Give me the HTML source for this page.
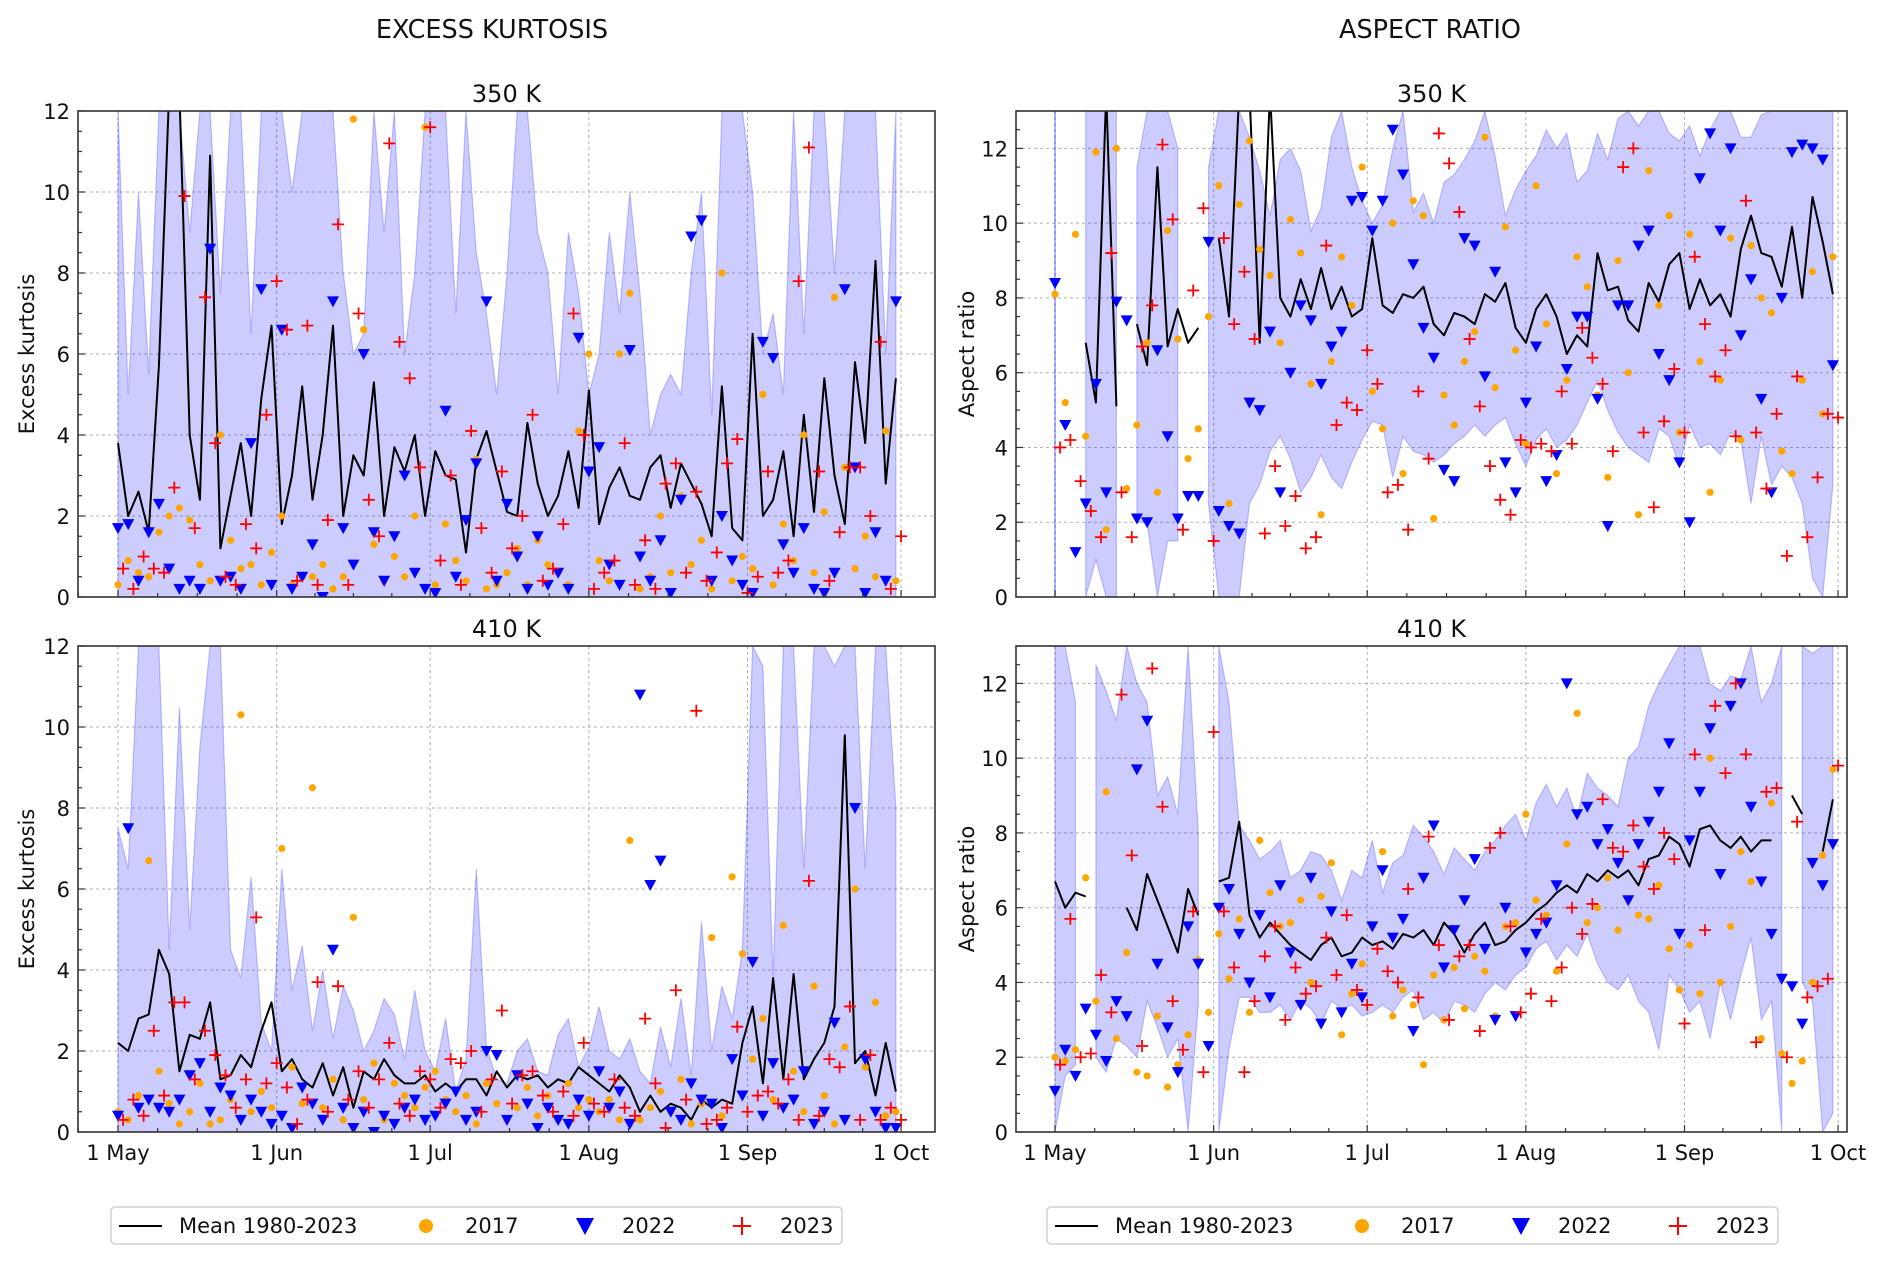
<!DOCTYPE html>
<html><head><meta charset="utf-8"><style>
html,body{margin:0;padding:0;background:#fff;}
svg{display:block;font-family:"DejaVu Sans","Liberation Sans",sans-serif;}
</style></head><body>
<svg id="chart" width="1892" height="1266" viewBox="0 0 1892 1266" xmlns="http://www.w3.org/2000/svg">
<text x="492" y="38" font-size="25.5" text-anchor="middle" fill="#111">EXCESS KURTOSIS</text>
<text x="1430" y="38" font-size="25.5" text-anchor="middle" fill="#111">ASPECT RATIO</text>
<g id="panels"></g>
<g>
<rect x="111" y="1207" width="731" height="37" rx="4" fill="#fff" stroke="#d0d0d0" stroke-width="1.5"/>
<line x1="119" y1="1226" x2="162" y2="1226" stroke="#000" stroke-width="2"/>
<text x="179" y="1233" font-size="21" fill="#111">Mean 1980-2023</text>
<circle cx="426" cy="1226" r="7" fill="#ffa500"/>
<text x="465" y="1233" font-size="21" fill="#111">2017</text>
<path d="M576,1218 L594,1218 L585,1235 Z" fill="#0000ff"/>
<text x="622" y="1233" font-size="21" fill="#111">2022</text>
<path d="M733,1226 H751 M742,1217 V1235" stroke="#ff0000" stroke-width="2"/>
<text x="780" y="1233" font-size="21" fill="#111">2023</text>
</g>
<g transform="translate(936,0)">
<rect x="111" y="1207" width="731" height="37" rx="4" fill="#fff" stroke="#d0d0d0" stroke-width="1.5"/>
<line x1="119" y1="1226" x2="162" y2="1226" stroke="#000" stroke-width="2"/>
<text x="179" y="1233" font-size="21" fill="#111">Mean 1980-2023</text>
<circle cx="426" cy="1226" r="7" fill="#ffa500"/>
<text x="465" y="1233" font-size="21" fill="#111">2017</text>
<path d="M576,1218 L594,1218 L585,1235 Z" fill="#0000ff"/>
<text x="622" y="1233" font-size="21" fill="#111">2022</text>
<path d="M733,1226 H751 M742,1217 V1235" stroke="#ff0000" stroke-width="2"/>
<text x="780" y="1233" font-size="21" fill="#111">2023</text>
</g>
</svg>
<script>
// Shared categories: month tick positions (day index from 1 May) and labels
const monthDays = [0, 31, 61, 92, 123, 153];
const monthLabels = ["1 May", "1 Jun", "1 Jul", "1 Aug", "1 Sep", "1 Oct"];
const sampleStep = 2; // values sampled every 2 days starting 1 May

// ---- Excess kurtosis, 350 K ----
const kurt350Mean = [3.8,2.0,2.6,1.6,5.7,12.5,12.5,4.0,2.4,10.9, 1.2,2.5,3.8,2.0,4.9,6.7,1.8,3.0,5.2,2.4, 4.0,6.7,2.0,3.5,3.0,5.3,2.0,3.7,3.1,4.0, 2.0,3.6,3.0,2.9,1.1,3.4,4.1,3.1,2.1,2.0, 4.3,2.8,2.0,2.5,3.6,2.2,5.1,1.8,2.7,3.2, 2.5,2.4,3.2,3.5,2.2,3.3,2.8,2.3,1.5,5.2, 1.7,1.4,6.5,2.0,2.4,3.6,1.5,4.5,2.1,5.4, 3.0,1.8,5.8,3.8,8.3,2.8,5.4];
const kurt350Upper = [12,5,10,5.5,12,12,12,9,12,12, 7.5,12,12,6.5,12,12,12,10,12,12, 12,12,8,6,6.5,12,9,12,6,8, 12,12,12,7,12,8.5,7,5,8,12, 12,9,8,5,9,7.5,5,6,9,7, 10,7.5,4,5,5.5,5,8,10,4.5,12, 12,12,10,6,7,5,12,6.5,12,12, 8,12,12,12,12,6,12];
const kurt350Lower = [0,0,0,0,0,0,0,0,0,0, 0,0,0,0,0,0,0,0,0,0, 0,0,0,0,0,0,0,0,0,0, 0,0,0,0,0,0,0,0,0,0, 0,0,0,0,0,0,0,0,0,0, 0,0,0,0,0,0,0,0,0,0, 0,0,0,0,0,0,0,0,0,0, 0,0,0,0,0,0,0];
const kurt350Y2017 = [0.3,0.9,0.6,0.5,1.6,2.0,2.2,1.9,0.8,0.4, 4.0,1.4,0.7,0.8,0.3,1.1,2.0,0.3,0.5,0.5, 0.8,0.2,0.5,11.8,6.6,1.3,0.4,1.0,0.5,2.0, 11.6,0.3,1.8,0.9,0.4,3.4,0.2,0.3,0.6,1.2, 0.3,1.4,0.8,0.6,0.3,4.1,6.0,0.9,0.4,6.0, 7.5,0.2,0.5,2.0,0.6,2.5,0.8,1.4,0.2,8.0, 0.4,1.0,0.7,5.0,0.3,1.8,0.9,4.0,0.6,2.1, 7.4,3.2,0.7,1.5,0.5,4.1,0.4];
const kurt350Y2022 = [1.7,1.8,0.4,1.6,2.3,0.7,0.2,0.4,0.2,8.6, 0.4,0.5,0.2,3.8,7.6,0.3,6.6,0.2,0.5,1.3, 0.0,7.3,1.7,0.8,6.0,1.6,0.4,1.5,3.0,0.6, 0.2,0.1,4.6,0.5,1.9,3.3,7.3,0.4,2.3,1.0, 0.2,1.5,0.3,0.6,0.2,6.4,3.1,3.7,0.8,0.3, 6.1,1.0,0.4,1.4,0.1,2.4,8.9,9.3,0.4,2.0, 0.9,0.3,0.1,6.3,5.9,1.3,0.6,1.7,0.2,0.1, 0.6,7.6,3.2,0.1,1.6,0.4,7.3];
const kurt350Y2023 = [0.7,0.2,1.0,0.7,0.6,2.7,9.9,1.7,7.4,3.8, 0.5,0.3,1.8,1.2,4.5,7.8,6.6,0.4,6.7,0.3, 1.9,9.2,0.3,7.0,2.4,1.5,11.2,6.3,5.4,3.2, 11.6,0.9,3.0,0.3,4.1,1.7,0.6,3.1,1.2,2.0, 4.5,0.4,0.7,1.8,7.0,4.0,0.2,0.6,0.9,3.8, 0.3,1.4,0.2,2.8,3.3,0.6,2.6,0.4,1.1,3.3, 3.9,0.1,0.5,3.1,0.6,0.9,7.8,11.1,3.1,0.4, 1.6,3.2,3.2,2.0,6.3,0.2,1.5];

// ---- Aspect ratio, 350 K ----
const asp350Mean = [null,null,null,6.8,5.2,13.5,5.1,null,7.3,6.2, 11.5,6.7,7.7,6.8,7.2,null,9.6,7.5,13.5,13.5, 6.8,13.5,8.0,7.5,8.5,7.7,8.8,7.7,8.3,7.5, 7.7,9.6,7.8,7.6,8.1,8.0,8.3,7.3,7.0,7.6, 7.5,7.3,8.1,7.9,8.4,7.2,6.8,7.7,8.1,7.5, 6.5,7.0,6.7,9.2,8.2,8.3,7.4,7.1,8.4,7.9, 8.9,9.2,7.7,8.5,7.8,8.1,7.5,9.3,10.2,9.2, 9.1,8.3,9.9,8.0,10.7,9.5,8.1];
const asp350Upper = [13,null,null,13,13,13,13,null,11.5,13, 13,13,12,null,null,11.5,13,13,13,12.3, 11.4,10.2,11.7,12.0,11.4,9.8,10.4,12.3,13,11.5, 10.6,10.0,10.5,12.0,13,10.3,10.8,10.0,11.1,11.3, 11.7,12.2,13,11.8,10.2,10.9,11.4,11.8,12.5,12.0, 12.4,11.1,11.4,12.4,11.7,12.8,13,12.6,13,13, 12.4,12.2,12.6,11.8,12.5,13,13,12.3,12.3,12.9, 13,13,13,13,13,13,13];
const asp350Lower = [0,null,null,0,1,0,0,null,2,2, 0,1.5,1.5,null,null,2.5,0,0,0,2.5, 3.0,3.9,4.3,3.7,2.8,3.2,3.8,3.2,2.9,3.6, 4.2,4.7,4.6,3.2,4.3,3.9,3.8,3.6,3.8,4.1, 4.3,4.6,4.3,4.6,4.8,4.1,3.5,4.2,4.5,4.0, 4.2,4.6,5.2,5.8,5.0,4.4,4.0,3.8,3.6,4.5, 4.3,3.5,4.6,4.0,4.1,3.8,4.4,4.2,2.5,4.3, 3.0,3.5,3.2,2.5,0.5,0,3.0];
const asp350Y2017 = [8.1,5.2,9.7,4.3,11.9,1.8,12.0,2.9,4.6,6.8, 2.8,9.8,6.9,3.7,4.5,7.5,11.0,2.5,10.5,12.2, 9.3,8.6,6.8,10.1,9.2,5.7,2.2,6.3,9.1,7.8, 11.5,5.5,4.5,10.0,3.3,10.6,10.2,2.1,5.4,4.6, 6.3,7.1,12.3,5.6,9.9,6.6,4.1,11.0,7.3,3.3, 5.8,9.1,8.3,5.4,3.2,9.0,6.0,2.2,11.4,7.8, 10.2,4.4,9.7,6.3,2.8,5.8,9.6,4.2,9.4,8.0, 7.6,3.9,3.3,5.8,8.7,4.9,9.1];
const asp350Y2022 = [8.4,4.6,1.2,2.5,5.7,2.8,7.9,7.4,2.1,2.0, 6.6,4.3,2.1,2.7,2.7,9.5,2.3,1.9,1.7,5.2, 5.0,7.1,2.8,6.0,7.8,7.4,5.7,6.7,7.1,10.6, 10.7,9.8,10.6,12.5,11.3,8.9,7.2,6.4,3.4,3.1, 9.6,9.4,5.9,8.7,3.6,2.8,5.2,6.7,3.1,3.8, 6.1,7.5,7.5,5.3,1.9,7.8,7.8,9.4,9.8,6.5, 5.8,3.6,2.0,11.2,12.4,9.8,12.0,7.0,8.5,5.3, 2.8,8.0,11.9,12.1,12.0,11.7,6.2];
const asp350Y2023 = [4.0,4.2,3.1,2.3,1.6,9.2,2.8,1.6,6.7,7.8, 12.1,10.1,1.8,8.2,10.4,1.5,9.6,7.3,8.7,6.9, 1.7,3.5,1.9,2.7,1.3,1.6,9.4,4.6,5.2,5.0, 6.6,5.7,2.8,3.0,1.8,5.5,3.7,12.4,11.6,10.3, 6.9,5.1,3.5,2.6,2.2,4.2,4.0,4.1,3.9,5.5, 4.1,7.2,6.4,5.7,3.9,11.5,12.0,4.4,2.4,4.7, 6.1,4.4,9.1,7.3,5.9,6.6,4.3,10.6,4.4,2.9, 4.9,1.1,5.9,1.6,3.2,4.9,4.8];

// ---- Excess kurtosis, 410 K ----
const kurt410Mean = [2.2,2.0,2.8,2.9,4.5,3.9,1.5,2.4,2.3,3.2, 1.3,1.4,1.9,1.6,2.5,3.2,1.5,1.8,1.3,1.1, 1.7,0.9,1.6,0.6,1.5,1.3,1.8,1.4,1.2,1.2, 1.4,1.0,1.2,1.0,1.3,1.3,0.9,1.5,1.1,1.4, 1.3,1.4,1.1,1.3,1.2,1.6,1.4,1.2,1.0,1.4, 1.1,0.5,0.9,0.5,0.7,0.6,0.3,0.8,0.6,0.8, 0.7,2.2,3.1,1.2,3.8,1.3,3.9,1.3,1.8,2.2, 3.1,9.8,1.7,2.0,0.9,2.2,1.0];
const kurt410Upper = [7.5,6.5,12,12,12,4.5,10.5,5.0,9.5,12, 12,4.5,3.8,6.3,2.7,2.0,6.5,3.5,4.6,2.5, 4.0,2.3,3.6,3.0,2.0,2.5,3.3,2.9,1.8,3.5, 2.0,1.5,2.8,1.0,1.8,6.5,2.1,1.3,1.2,2.0, 2.3,1.5,1.4,2.4,2.8,1.6,2.1,3.1,2.0,1.8, 2.3,1.5,1.2,2.6,1.6,3.3,1.4,5.2,2.0,3.6, 2.8,4.5,12,11.5,3.8,12,12,6.5,12,12, 11.5,12,12,6.5,12,12,8.0];
const kurt410Lower = [0,0,0,0,0,0,0,0,0,0, 0,0,0,0,0,0,0,0,0,0, 0,0,0,0,0,0,0,0,0,0, 0,0,0,0,0,0,0,0,0,0, 0,0,0,0,0,0,0,0,0,0, 0,0,0,0,0,0,0,0,0,0, 0,0,0,0,0,0,0,0,0,0, 0,0,0,0,0,0,0];
const kurt410Y2017 = [0.5,0.3,0.9,6.7,1.5,0.7,0.2,0.5,1.2,0.2, 0.3,0.8,10.3,0.5,1.0,0.6,7.0,1.6,0.7,8.5, 0.6,1.3,0.3,5.3,0.8,1.7,0.3,1.2,0.9,0.6, 1.1,1.5,0.8,0.5,0.9,0.2,1.2,0.7,0.3,0.6, 1.1,0.4,0.9,0.3,1.2,0.6,0.8,0.5,0.8,0.3, 7.2,0.3,0.6,1.0,0.5,1.3,0.2,0.7,4.8,0.4, 6.3,4.4,1.8,2.8,0.8,5.1,1.5,0.5,3.6,0.9, 0.2,2.1,6.0,1.6,3.2,0.4,0.5];
const kurt410Y2022 = [0.4,7.5,0.6,0.8,0.6,0.5,0.8,1.4,1.7,0.5, 1.1,0.9,0.3,0.8,0.5,0.2,0.4,0.1,1.1,0.7, 0.3,4.5,0.6,0.1,0.5,0.0,0.4,0.2,0.6,0.8, 0.3,0.4,0.7,1.0,0.3,0.5,2.0,1.9,0.3,1.4, 0.7,0.1,0.6,0.3,0.2,0.8,0.4,1.5,0.6,1.0, 0.2,10.8,6.1,6.7,0.5,0.3,1.2,0.8,0.7,0.1, 1.8,0.9,4.2,0.4,1.7,0.6,0.8,1.5,0.2,0.5, 2.7,0.3,8.0,1.8,0.5,0.1,0.1];
const kurt410Y2023 = [0.3,0.8,0.4,2.5,0.9,3.2,3.2,1.3,2.5,1.9, 1.4,0.6,1.3,5.3,1.2,1.7,1.1,0.2,0.8,3.7, 0.5,3.6,0.8,1.5,0.6,1.3,2.2,0.7,0.4,1.5, 1.3,0.6,1.8,1.7,2.0,0.5,1.3,3.0,0.7,1.4, 1.5,0.9,0.5,1.0,0.4,2.2,0.7,0.5,1.3,0.6, 0.4,2.8,1.2,0.1,3.5,0.8,10.4,0.2,0.3,0.6, 2.6,0.5,0.9,1.0,0.7,1.3,0.3,6.2,0.4,1.8, 1.6,3.1,0.3,1.9,0.3,0.6,0.3];

// ---- Aspect ratio, 410 K ----
const asp410Mean = [6.7,6.0,6.4,6.3,null,null,null,6.0,5.4,6.9, 6.2,5.5,4.8,6.5,5.8,null,6.7,6.8,8.3,5.8, 5.2,5.6,5.3,5.0,4.8,4.6,5.0,5.2,4.7,4.8, 5.2,5.0,5.1,4.9,5.3,5.2,5.4,5.0,5.6,5.3, 4.8,5.3,5.6,5.0,5.1,5.4,5.6,5.9,6.1,6.4, 6.6,6.4,6.9,6.7,7.0,6.8,7.0,6.6,7.3,7.4, 7.9,7.7,7.1,8.1,8.2,7.8,7.6,7.9,7.5,7.8, 7.8,null,9.0,8.5,null,7.5,8.9];
const asp410Upper = [13,13,11.5,null,12.5,11.8,11.0,13,12.0,11.5, 9.0,9.5,8.5,13,8.0,null,13,11.5,8.2,7.8, 7.3,7.5,7.8,6.8,7.0,7.5,7.4,7.0,6.2,7.0, 6.8,7.8,6.4,7.2,7.4,8.2,7.9,7.5,6.9,7.6, 7.3,7.0,7.5,7.8,8.2,8.5,7.8,8.8,9.3,8.7, 9.2,8.4,9.6,9.2,9.0,8.7,10.0,10.3,11.4,12.0, 12.5,13,13,13,12.0,11.8,12.2,12.1,13,11.5, 12.0,13,null,13,12.8,13,13];
const asp410Lower = [0,1.5,1.8,null,2.0,1.6,2.5,2.3,2.0,3.5, 2.8,2.0,2.5,0,3.4,null,0,2.2,3.6,3.6, 3.2,3.2,3.4,3.0,3.5,3.3,2.9,3.5,3.3,3.4, 3.1,3.2,3.4,3.2,3.6,3.8,3.0,3.2,2.9,3.5, 3.4,3.2,3.7,4.0,3.8,4.2,4.4,4.9,5.1,4.6, 5.0,4.7,5.3,4.5,4.0,3.8,4.2,3.5,3.2,2.2, 4.2,3.8,3.2,3.5,2.5,4.0,3.0,4.2,5.2,3.0, 3.5,0,null,4.0,3.5,0,0.5];
const asp410Y2017 = [2.0,1.9,2.2,6.8,3.5,9.1,2.5,4.8,1.6,1.5, 3.1,1.2,1.8,2.6,4.6,3.2,5.3,4.1,5.7,3.2, 7.8,6.4,5.5,5.6,6.2,4.0,6.3,7.2,2.6,3.7, 4.5,5.5,7.5,3.1,3.8,3.4,1.8,4.2,3.0,4.4, 3.3,4.7,4.3,3.1,5.5,5.6,8.5,6.2,5.8,4.3, 7.7,11.2,5.6,6.0,6.8,5.4,6.2,5.8,5.7,6.6, 4.9,3.8,5.0,3.7,10.0,4.0,5.5,7.5,6.7,2.5, 8.8,2.1,1.3,1.9,4.0,7.4,9.7];
const asp410Y2022 = [1.1,2.2,1.5,3.3,2.6,1.9,3.5,3.1,9.7,11.0, 4.5,2.8,1.6,5.5,4.5,2.3,6.0,6.5,5.3,4.0, 5.8,3.6,6.6,4.8,3.4,6.8,2.9,5.9,3.2,4.5, 3.6,5.5,7.0,5.2,5.7,2.7,6.8,8.2,4.4,5.4, 6.2,7.3,4.9,3.0,6.0,3.1,4.8,5.3,5.6,6.6, 12.0,8.5,8.7,7.7,8.1,7.2,6.2,7.7,8.3,9.1, 10.4,5.3,7.8,9.1,10.8,6.9,11.4,12.0,8.7,6.7, 5.3,4.1,3.9,2.9,7.2,6.6,7.7];
const asp410Y2023 = [1.8,5.7,2.0,2.1,4.2,3.2,11.7,7.4,2.3,12.4, 8.7,3.5,2.2,5.9,1.6,10.7,5.9,4.4,1.6,3.5, 4.7,5.5,3.0,4.4,3.7,3.9,5.2,4.2,5.8,3.8, 3.4,4.9,4.3,4.0,6.5,3.6,7.9,5.0,3.0,4.7, 5.0,2.7,7.6,8.0,5.5,3.2,3.7,5.7,3.5,4.4, 6.0,5.3,6.1,8.9,7.6,7.5,8.2,7.1,6.5,8.0, 7.3,2.9,10.1,5.4,11.4,9.6,12.0,10.1,2.4,9.1, 9.2,2.0,8.3,3.6,3.9,4.1,9.8];

const NS = "http://www.w3.org/2000/svg";
const root = document.getElementById("panels");
function mk(tag, attrs, parent) {
  const e = document.createElementNS(NS, tag);
  for (const k in attrs) e.setAttribute(k, attrs[k]);
  (parent || root).appendChild(e);
  return e;
}

const panels = [
  {key:"kurt-350", x0:78, x1:935, y0:111, y1:597, may1:118, ymax:12, title:"350 K", ylabel:"Excess kurtosis", showX:false,
   mean:kurt350Mean, up:kurt350Upper, lo:kurt350Lower, s17:kurt350Y2017, s22:kurt350Y2022, s23:kurt350Y2023},
  {key:"aspect-350", x0:1016, x1:1847, y0:111, y1:597, may1:1055, ymax:13, title:"350 K", ylabel:"Aspect ratio", showX:false,
   mean:asp350Mean, up:asp350Upper, lo:asp350Lower, s17:asp350Y2017, s22:asp350Y2022, s23:asp350Y2023},
  {key:"kurt-410", x0:78, x1:935, y0:646, y1:1132, may1:118, ymax:12, title:"410 K", ylabel:"Excess kurtosis", showX:true,
   mean:kurt410Mean, up:kurt410Upper, lo:kurt410Lower, s17:kurt410Y2017, s22:kurt410Y2022, s23:kurt410Y2023},
  {key:"aspect-410", x0:1016, x1:1847, y0:646, y1:1132, may1:1055, ymax:13, title:"410 K", ylabel:"Aspect ratio", showX:true,
   mean:asp410Mean, up:asp410Upper, lo:asp410Lower, s17:asp410Y2017, s22:asp410Y2022, s23:asp410Y2023}
];
const PPD = 5.118;

panels.forEach((p, pi) => {
  const g = mk("g", {});
  
  
  const xs = d => p.may1 + d * PPD;
  const ys = v => p.y1 - (v / p.ymax) * (p.y1 - p.y0);
  const clipId = "clip" + pi;
  const defs = mk("defs", {}, g);
  const cp = mk("clipPath", {id: clipId}, defs);
  mk("rect", {x:p.x0, y:p.y0, width:p.x1-p.x0, height:p.y1-p.y0}, cp);

  const grid = mk("g", {stroke:"#b0b0b0", "stroke-width":1, "stroke-dasharray":"3,3"}, g);
  
  
  monthDays.forEach(d => { const x = xs(d); if (x > p.x0 && x < p.x1) mk("line", {x1:x, x2:x, y1:p.y0, y2:p.y1}, grid); });
  for (let v = 2; v <= p.ymax; v += 2) { const y = ys(v); mk("line", {x1:p.x0, x2:p.x1, y1:y, y2:y}, grid); }

  const plot = mk("g", {"clip-path":"url(#"+clipId+")"}, g);
  const band = mk("g", {}, plot);
  
  
  let seg = [];
  const flush = () => {
    if (seg.length === 1) {
      const s = seg[0];
      mk("line", {x1:xs(s.d), x2:xs(s.d), y1:ys(s.lo), y2:ys(s.up), stroke:"rgba(0,0,255,0.3)", "stroke-width":2}, band);
    } else if (seg.length > 1) {
      let d = "M" + seg.map(s => xs(s.d).toFixed(1) + "," + ys(s.up).toFixed(1)).join(" L");
      d += " L" + seg.slice().reverse().map(s => xs(s.d).toFixed(1) + "," + ys(s.lo).toFixed(1)).join(" L") + " Z";
      mk("path", {d:d, fill:"rgba(0,0,255,0.2)", stroke:"rgba(0,0,255,0.22)", "stroke-width":1.2}, band);
    }
    seg = [];
  };
  for (let i = 0; i < p.up.length; i++) {
    if (p.up[i] === null || p.lo[i] === null) { flush(); continue; }
    seg.push({d: i * sampleStep, up: p.up[i], lo: p.lo[i]});
  }
  flush();

  const ml = mk("g", {}, plot);
  
  
  let pts = [];
  const flushL = () => { if (pts.length > 1) mk("polyline", {points:pts.join(" "), fill:"none", stroke:"#000", "stroke-width":2, "stroke-linejoin":"round"}, ml); pts = []; };
  for (let i = 0; i < p.mean.length; i++) {
    if (p.mean[i] === null) { flushL(); continue; }
    pts.push(xs(i*sampleStep).toFixed(1) + "," + ys(p.mean[i]).toFixed(1));
  }
  flushL();

  const g17 = mk("g", {fill:"#ffa500"}, plot);
  
  
  p.s17.forEach((v, i) => { if (v === null) return; mk("circle", {cx:xs(i*sampleStep), cy:ys(v), r:3.6}, g17); });
  const g22 = mk("g", {fill:"#0000ff"}, plot);
  
  
  p.s22.forEach((v, i) => { if (v === null) return; const x = xs(i*sampleStep), y = ys(v);
    mk("path", {d:`M${x-6},${y-5} L${x+6},${y-5} L${x},${y+6} Z`}, g22); });
  const g23 = mk("g", {stroke:"#ff0000", "stroke-width":1.8, fill:"none"}, plot);
  
  
  p.s23.forEach((v, i) => { if (v === null) return; const x = xs(i*sampleStep+1), y = ys(v);
    mk("path", {d:`M${x-6},${y} H${x+6} M${x},${y-6} V${y+6}`}, g23); });

  const fr = mk("rect", {x:p.x0, y:p.y0, width:p.x1-p.x0, height:p.y1-p.y0, fill:"none", stroke:"#333", "stroke-width":1.6}, g);
  
  

  const yt = mk("g", {stroke:"#333", "stroke-width":1.2}, g);
  
  
  for (let v = 0; v <= p.ymax + 1e-6; v += 0.5) {
    const y = ys(v); const major = Math.abs(v % 2) < 1e-6;
    mk("line", {x1:p.x0, x2:p.x0 + (major ? 7 : 4), y1:y, y2:y}, yt);
    if (major) {
      const t = mk("text", {x:p.x0 - 8, y:y + 8, "font-size":21, "text-anchor":"end", fill:"#111", stroke:"none"}, yt);
      t.textContent = String(v);
    }
  }
  const xt = mk("g", {stroke:"#333", "stroke-width":1.2}, g);
  
  
  for (let m = 0; m < monthDays.length; m++) {
    const d = monthDays[m], x = xs(d);
    mk("line", {x1:x, x2:x, y1:p.y1, y2:p.y1 - 7}, xt);
    const span = m < monthDays.length - 1 ? monthDays[m+1] - d : 31;
    for (let q = 1; q < 4; q++) { const xm = xs(d + span*q/4); if (xm < p.x1) mk("line", {x1:xm, x2:xm, y1:p.y1, y2:p.y1 - 4}, xt); }
    if (p.showX) {
      const t = mk("text", {x:x, y:p.y1 + 28, "font-size":21, "text-anchor":"middle", fill:"#111", stroke:"none"}, xt);
      t.textContent = monthLabels[m];
    }
  }
  const prevMinor = xs(-31/4);
  if (prevMinor > p.x0) mk("line", {x1:prevMinor, x2:prevMinor, y1:p.y1, y2:p.y1-4}, xt);

  const tt = mk("text", {x:(p.x0+p.x1)/2, y:p.y0 - 9, "font-size":24, "text-anchor":"middle", fill:"#111"}, g);
  tt.textContent = p.title;
  
  
  const cy = (p.y0 + p.y1) / 2;
  const lx = p.x0 < 500 ? 34 : 974;
  const yl = mk("text", {x:lx, y:cy, "font-size":21, "text-anchor":"middle", fill:"#111", transform:`rotate(-90 ${lx} ${cy})`}, g);
  yl.textContent = p.ylabel;
  
  
});
</script>
</body></html>
